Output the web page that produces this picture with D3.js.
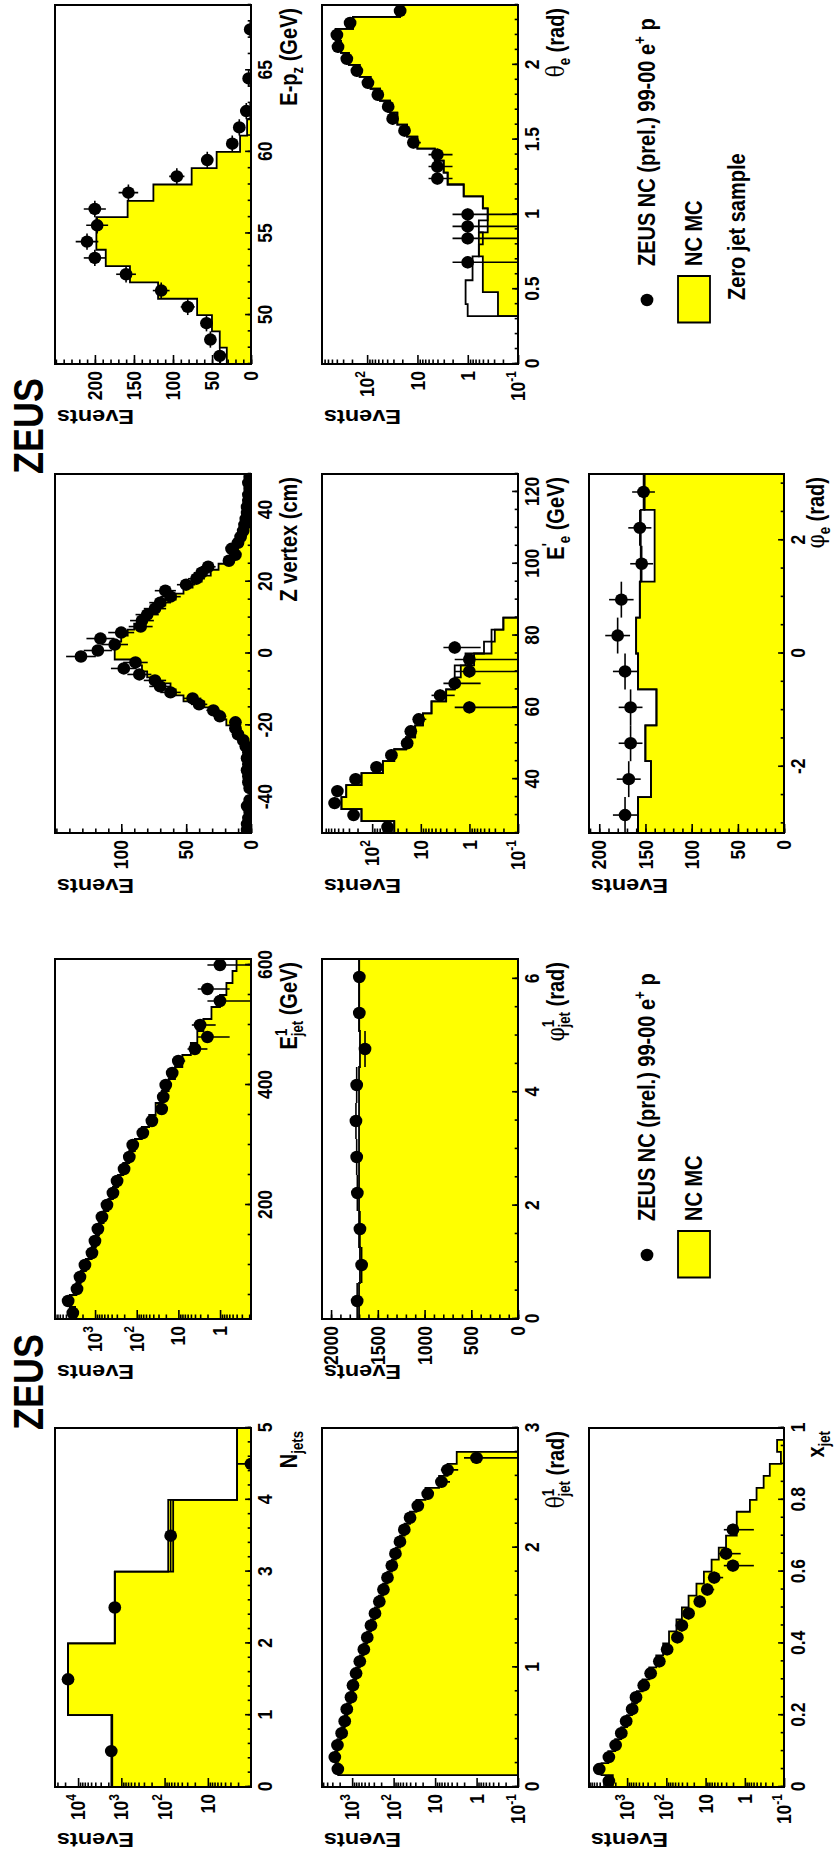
<!DOCTYPE html>
<html>
<head>
<meta charset="utf-8">
<script src="https://cdn.jsdelivr.net/npm/d3@7"></script>
<style>
  body { margin: 0; background: #fff; }
  svg { display: block; }
</style>
</head>
<body>
<script>
// ---------------- histogram contents (events per bin) ----------------
// E - pz, 22 bins from 47 to 69 GeV
const epzRange = [47, 69];
const epzData = [40, 52, 57, 81, 115, 160, 200, 210, 197, 200, 157, 95, 56, 24, 15, 6, 0, 3, 0, 0, 1, 0];
const epzMC   = [31, 40, 50, 69, 119, 155, 186, 198, 198, 158, 125, 76, 44, 14, 5, 1, 0, 0, 0, 0, 0, 0];

// theta_e, 30 bins from 0 to 2.4 rad
const thetaERange = [0, 2.4];
const thetaEData = [0, 0, 0, 0, 0, 0, 0, 0, 1, 0, 1, 1, 1, 0, 0, 4, 4, 4, 12, 18, 31, 38, 61, 96, 159, 252, 377, 397, 217, 22];
const thetaEMC   = [0, 0, 0, 0, 0.25, 0.25, 0.5, 0.5, 0.5, 0.6, 0.6, 0.4, 0.4, 0.5, 1.2, 2.5, 3, 4.5, 10, 16, 25, 35, 55, 85, 140, 230, 330, 420, 190, 22];
const thetaEMCLine = [0, 0, 0, 0, 1.0, 1.1, 1.1, 0.8, 0.8, 0.6, 0.5, 0.6, 0.4, 0.5, 1.2, 2.5, 3, 4.5, 10, 16, 25, 35, 55, 85, 140, 230, 330, 420, 190, 22];

// Z vertex, 60 bins from -50 to 50 cm
const zvtxRange = [-50, 50];
const zvtxData = [3, 3, 2, 1, 3, 1, 0, 1, 2, 2, 3, 2, 3, 2, 4, 6, 10, 12, 12, 24, 29, 40, 45, 62, 70, 74, 86, 98, 89, 131,
                  118, 105, 116, 100, 85, 84, 80, 74, 70, 62, 66, 50, 42, 38, 33, 17, 12, 15, 10, 8, 6, 5, 4, 3, 3, 2, 2, 1, 2, 1];
const zvtxMC   = [1, 1, 1, 1, 1, 1, 1, 1, 1, 1.5, 1.5, 1.5, 2, 2, 3, 4, 9, 14, 19, 22, 30, 36, 52, 58, 62, 76, 80, 84, 92, 105,
                  105, 103, 100, 95, 90, 84, 78, 72, 66, 58, 52, 45, 38, 31, 25, 19, 14, 10, 7, 5, 3.5, 2.5, 2, 1.5, 1.5, 1, 1, 1, 1, 1];

// E'_e, 30 bins from 25 to 125 GeV
const eeRange = [25, 125];
const eeData = [48, 240, 590, 516, 218, 81, 40, 19, 16, 11, 1, 4, 2, 1, 1, 2, 0, 0, 0, 0, 0, 0, 0, 0, 0, 0, 0, 0, 0, 0];
const eeMC   = [35, 165, 426, 340, 165, 60, 35, 20, 13, 9, 6, 3, 2, 1.5, 0.8, 0.35, 0.3, 0.2, 0, 0, 0, 0, 0, 0, 0, 0, 0, 0, 0, 0];
const eeMCLine = [35, 165, 426, 340, 165, 60, 35, 20, 13, 9, 6, 3, 2, 2, 1.2, 0.5, 0.35, 0.2, 0, 0, 0, 0, 0, 0, 0, 0, 0, 0, 0, 0];

// phi_e, 10 bins over [-3.17, 3.17] rad
const phiERange = [-3.17, 3.17];
const phiEData = [172, 168, 166, 166, 172, 180, 176, 154, 156, 152];
const phiEMC   = [158, 144, 150, 138, 158, 160, 156, 140, 140, 151];
const phiEMCLine = [158, 144, 150, 138, 158, 160, 156, 155, 155, 151];

// leading jet energy, 30 bins from 10 to 610 GeV
const ejetRange = [10, 610];
const ejetData = [3400, 4400, 2700, 2290, 1740, 1180, 1000, 850, 680, 515, 370, 295, 200, 150, 124, 71, 43, 25, 23, 20, 14, 10, 4, 2, 3, 0, 1, 2, 0, 1];
const ejetMC   = [3000, 4000, 2800, 2200, 1650, 1200, 950, 800, 620, 480, 370, 280, 210, 150, 110, 75, 50, 35, 25, 17, 12, 8, 5, 3.5, 2.5, 1.6, 1.0, 0.7, 0.5, 0.4];

// leading jet phi, 10 bins over [0, 6.35] rad
const phiJetRange = [0, 6.35];
const phiJetData = [1720, 1672, 1690, 1718, 1725, 1733, 1725, 1636, 1697, 1697];
const phiJetMC   = [1700, 1690, 1700, 1700, 1700, 1700, 1700, 1690, 1700, 1700];

// jet multiplicity, 5 bins from 0 to 5
const njetsRange = [0, 5];
const njetsData = [1700, 17000, 1410, 72, 1];
const njetsMC   = [1620, 17000, 1410, 82, 2.1];
const njetsMCLine = [1620, 17000, 1410, 63, 2.1];

// leading jet theta, 30 bins from 0 to 3 rad
const thetaJetRange = [0, 3];
const thetaJetData = [0, 2200, 2600, 2250, 1780, 1500, 1340, 1060, 950, 800, 650, 520, 430, 350, 280, 220, 175, 140, 110, 90, 70, 55, 40, 26, 15, 7, 5, 1, 0, 0];
const thetaJetMC   = [0, 2150, 2500, 2250, 1800, 1500, 1300, 1080, 930, 790, 650, 530, 430, 350, 280, 225, 178, 140, 110, 88, 70, 54, 40, 28, 17, 8, 5, 3, 0, 0];

// x_jet, 30 bins from 0 to 1
const xjetRange = [0, 1];
const xjetData = [2900, 5100, 2900, 1950, 1400, 1050, 740, 590, 375, 250, 150, 95, 52, 40, 27, 14, 9, 6, 2, 3, 0, 2, 0, 0, 0, 0, 0, 0, 0, 0];
const xjetMC   = [2300, 4500, 3000, 2000, 1400, 1000, 750, 560, 400, 270, 180, 120, 85, 55, 40, 27, 17, 11, 7, 4.6, 3, 1.6, 1.6, 0.74, 0.5, 0.33, 0.23, 0.12, 0.15, 0];

// axis tick labels
const epzTicks = [50, 55, 60, 65];
const thetaETicks = [0, 0.5, 1, 1.5, 2];
const zvtxTicks = [-40, -20, 0, 20, 40];
const eeTicks = [40, 60, 80, 100, 120];
const phiETicks = [-2, 0, 2];
const ejetTicks = [200, 400, 600];
const phiJetTicks = [0, 2, 4, 6];
const njetsTicks = [0, 1, 2, 3, 4, 5];
const thetaJetTicks = [0, 1, 2, 3];
const xjetTicks = [0, 0.2, 0.4, 0.6, 0.8, 1];

const legendEntries = ["ZEUS NC (prel.) 99-00 e", "NC MC", "Zero jet sample"];

// ---------------- canvas ----------------
// The figure is laid out as a landscape canvas and turned onto the portrait page.
const PAGE_W = 837, PAGE_H = 1858, K = 1.18;
const FONT = "'Liberation Sans', Arial, Helvetica, sans-serif";
const GREEK = "'DejaVu Serif', 'Liberation Serif', serif";
const YELLOW = "#ffff00";

const svg = d3.select("body").append("svg")
  .attr("width", PAGE_W).attr("height", PAGE_H)
  .attr("font-family", FONT).attr("font-weight", "bold");
svg.append("rect").attr("width", PAGE_W).attr("height", PAGE_H).attr("fill", "#fff");
const defs = svg.append("defs");
const root = svg.append("g")
  .attr("transform", `translate(0,${PAGE_H}) rotate(-90) scale(1,${K})`);

// frame rows (page x) and columns (page y)
const rows = { r1: [55, 251], r2: [322, 518], r3: [589, 784] };
const cols = { cA: [5, 364], cB: [474, 833], cC: [959, 1319], cD: [1428, 1787] };
function box(row, col) {
  const [px0, px1] = rows[row], [py0, py1] = cols[col];
  return { x0: PAGE_H - py1, x1: PAGE_H - py0, y0: px0 / K, y1: px1 / K };
}

function rich(text, segs, size) {
  let shift = 0;
  segs.forEach(s => {
    const small = s.sub || s.sup;
    const target = s.sup ? -size * 0.42 : s.sub ? size * 0.26 : 0;
    const ts = text.append("tspan").text(s.t)
      .attr("font-size", small ? size * 0.66 : size)
      .attr("dy", target - shift);
    if (s.back) ts.attr("dx", -s.back);
    if (s.greek) ts.attr("font-family", GREEK).attr("font-weight", "normal");
    shift = target;
  });
}

function logMinors([lo, hi]) {
  const out = [];
  for (let e = Math.floor(Math.log10(lo)); e <= Math.ceil(Math.log10(hi)); e++)
    for (let m = 2; m <= 9; m++) { const v = m * Math.pow(10, e); if (v > lo && v < hi) out.push(v); }
  return out;
}

function styleAxis(g, size) {
  g.select(".domain").remove();
  g.selectAll(".tick line").attr("stroke", "#000").attr("stroke-width", 1.6)
    .attr("vector-effect", "non-scaling-stroke");
  g.selectAll(".tick text").attr("font-family", FONT).attr("font-weight", "bold")
    .attr("font-size", size).attr("fill", "#000");
  g.attr("font-family", null).attr("font-size", null);
}

function drawPanel(p) {
  const b = box(p.row, p.col);
  const g = root.append("g");
  const x = d3.scaleLinear().domain(p.xDomain).range([b.x0, b.x1]);
  const isLog = p.yType === "log";
  const y = (isLog ? d3.scaleLog() : d3.scaleLinear()).domain(p.yDomain).range([b.y1, b.y0]);
  const yv = v => (v <= (isLog ? p.yDomain[0] : 0)) ? b.y1 : Math.max(b.y0 - 20, y(v));

  const clipId = "clip-" + p.id;
  defs.append("clipPath").attr("id", clipId).append("rect")
    .attr("x", b.x0).attr("y", b.y0).attr("width", b.x1 - b.x0).attr("height", b.y1 - b.y0);
  const plot = g.append("g").attr("clip-path", `url(#${clipId})`);

  const n = p.data.length, [h0, h1] = p.hist, w = (h1 - h0) / n;
  const edges = d3.range(n + 1).map(i => h0 + i * w);
  const stepPath = vals => {
    const pts = [[x(edges[0]), b.y1]];
    vals.forEach((v, i) => { pts.push([x(edges[i]), yv(v)], [x(edges[i + 1]), yv(v)]); });
    pts.push([x(edges[n]), b.y1]);
    return d3.line()(pts);
  };
  plot.append("path").attr("d", stepPath(p.fill))
    .attr("fill", YELLOW).attr("stroke", "#000").attr("stroke-width", 1.8)
    .attr("vector-effect", "non-scaling-stroke");
  if (p.line) plot.append("path").attr("d", stepPath(p.line))
    .attr("fill", "none").attr("stroke", "#000").attr("stroke-width", 1.8)
    .attr("vector-effect", "non-scaling-stroke");

  const pts = p.data.map((v, i) => ({ v, lo: edges[i], hi: edges[i + 1], c: (edges[i] + edges[i + 1]) / 2 }))
    .filter(d => d.v > 0);
  const err = plot.append("g").attr("stroke", "#000").attr("stroke-width", 1.6);
  err.selectAll("line.h").data(pts).join("line")
    .attr("x1", d => x(d.lo)).attr("x2", d => x(d.hi))
    .attr("y1", d => yv(d.v)).attr("y2", d => yv(d.v))
    .attr("vector-effect", "non-scaling-stroke");
  err.selectAll("line.v").data(pts).join("line")
    .attr("x1", d => x(d.c)).attr("x2", d => x(d.c))
    .attr("y1", d => yv(d.v - Math.sqrt(d.v))).attr("y2", d => yv(d.v + Math.sqrt(d.v)))
    .attr("vector-effect", "non-scaling-stroke");
  plot.append("g").selectAll("ellipse").data(pts).join("ellipse")
    .attr("cx", d => x(d.c)).attr("cy", d => yv(d.v))
    .attr("rx", 6.2).attr("ry", 5.4).attr("fill", "#000");

  // axes, ticks inside the frame
  const fmt = d => String(d);
  const xa = g.append("g").attr("transform", `translate(0,${b.y1})`)
    .call(d3.axisBottom(x).tickValues(p.xMajor).tickSizeInner(-5).tickSizeOuter(0).tickPadding(5).tickFormat(fmt));
  styleAxis(xa, 17.5);
  const xm = g.append("g").attr("transform", `translate(0,${b.y1})`)
    .call(d3.axisBottom(x).tickValues(p.xMinor).tickSizeInner(-2.8).tickSizeOuter(0).tickFormat(""));
  styleAxis(xm, 17.5);

  const ya = g.append("g").attr("transform", `translate(${b.x0},0)`)
    .call(d3.axisLeft(y).tickValues(p.yMajor).tickSizeInner(-9).tickSizeOuter(0).tickPadding(7).tickFormat(fmt));
  styleAxis(ya, 17.5);
  if (isLog) {
    ya.selectAll(".tick text").each(function (d) {
      const e = Math.round(Math.log10(d));
      const t = d3.select(this).text(null);
      if (e === 0) t.text("1");
      else if (e === 1) t.text("10");
      else {
        t.append("tspan").text("10");
        t.append("tspan").text(e).attr("font-size", 12).attr("dy", -8);
      }
    });
  }
  const yMinor = isLog ? logMinors(p.yDomain) : p.yMinor;
  const ym = g.append("g").attr("transform", `translate(${b.x0},0)`)
    .call(d3.axisLeft(y).tickValues(yMinor).tickSizeInner(-4.5).tickSizeOuter(0).tickFormat(""));
  styleAxis(ym, 17.5);

  g.append("rect").attr("x", b.x0).attr("y", b.y0).attr("width", b.x1 - b.x0).attr("height", b.y1 - b.y0)
    .attr("fill", "none").attr("stroke", "#000").attr("stroke-width", 2)
    .attr("vector-effect", "non-scaling-stroke");

  // axis titles
  const titleOffset = p.row === "r3" ? 33.5 : 39;
  const xt = g.append("text").attr("x", b.x1 - 3).attr("y", b.y1 + titleOffset)
    .attr("text-anchor", "end").attr("fill", "#000");
  rich(xt, p.title, 20);
  g.append("text").attr("transform", `translate(${b.x0 - 46},${b.y0 + 1.5}) rotate(-90)`)
    .attr("text-anchor", "end").attr("font-size", 20).attr("fill", "#000").text("Events");
}

const stepTicks = (lo, hi, s) => d3.range(Math.round(lo / s), Math.round(hi / s) + 1).map(i => +(i * s).toFixed(6))
  .filter(v => v >= lo - 1e-9 && v <= hi + 1e-9);

const panels = [
  { id: "epz", row: "r1", col: "cA", xDomain: [47, 69], hist: epzRange, xMajor: epzTicks, xMinor: stepTicks(47, 69, 1),
    yType: "lin", yDomain: [0, 251], yMajor: [0, 50, 100, 150, 200], yMinor: stepTicks(0, 250, 10),
    data: epzData, fill: epzMC, line: null,
    title: [{ t: "E-p" }, { t: "z", sub: true }, { t: " (GeV)" }] },
  { id: "thetae", row: "r2", col: "cA", xDomain: [0, 2.4], hist: thetaERange, xMajor: thetaETicks, xMinor: stepTicks(0, 2.4, 0.1),
    yType: "log", yDomain: [0.1, 785], yMajor: [0.1, 1, 10, 100],
    data: thetaEData, fill: thetaEMC, line: thetaEMCLine,
    title: [{ t: "θ", greek: true }, { t: "e", sub: true }, { t: " (rad)" }] },
  { id: "zvtx", row: "r1", col: "cB", xDomain: [-50, 50], hist: zvtxRange, xMajor: zvtxTicks, xMinor: stepTicks(-50, 50, 5),
    yType: "lin", yDomain: [0, 151], yMajor: [0, 50, 100], yMinor: stepTicks(0, 150, 10),
    data: zvtxData, fill: zvtxMC, line: null,
    title: [{ t: "Z vertex (cm)" }] },
  { id: "ee", row: "r2", col: "cB", xDomain: [25, 125], hist: eeRange, xMajor: eeTicks, xMinor: stepTicks(25, 125, 5),
    yType: "log", yDomain: [0.1, 1070], yMajor: [0.1, 1, 10, 100],
    data: eeData, fill: eeMC, line: eeMCLine,
    title: [{ t: "E" }, { t: "'", sup: true }, { t: "e", sub: true }, { t: " (GeV)" }] },
  { id: "phie", row: "r3", col: "cB", xDomain: [-3.17, 3.17], hist: phiERange, xMajor: phiETicks, xMinor: stepTicks(-3, 3, 0.5),
    yType: "lin", yDomain: [0, 211], yMajor: [0, 50, 100, 150, 200], yMinor: stepTicks(0, 210, 10),
    data: phiEData, fill: phiEMC, line: phiEMCLine,
    title: [{ t: "φ", greek: true }, { t: "e", sub: true }, { t: " (rad)" }] },
  { id: "ejet", row: "r1", col: "cC", xDomain: [10, 610], hist: ejetRange, xMajor: ejetTicks, xMinor: stepTicks(50, 600, 50),
    yType: "log", yDomain: [0.18, 9100], yMajor: [1, 10, 100, 1000],
    data: ejetData, fill: ejetMC, line: null,
    title: [{ t: "E" }, { t: "1", sup: true }, { t: "jet", sub: true, back: 7.5 }, { t: " (GeV)" }] },
  { id: "phijet", row: "r2", col: "cC", xDomain: [0, 6.35], hist: phiJetRange, xMajor: phiJetTicks, xMinor: stepTicks(0, 6.35, 0.5),
    yType: "lin", yDomain: [0, 2096], yMajor: [0, 500, 1000, 1500, 2000], yMinor: stepTicks(0, 2000, 100),
    data: phiJetData, fill: phiJetMC, line: null,
    title: [{ t: "φ", greek: true }, { t: "1", sup: true }, { t: "jet", sub: true, back: 7.5 }, { t: " (rad)" }] },
  { id: "njets", row: "r1", col: "cD", xDomain: [0, 5], hist: njetsRange, xMajor: njetsTicks, xMinor: stepTicks(0, 5, 0.2),
    yType: "log", yDomain: [1, 34000], yMajor: [10, 100, 1000, 10000],
    data: njetsData, fill: njetsMC, line: njetsMCLine,
    title: [{ t: "N" }, { t: "jets", sub: true }] },
  { id: "thetajet", row: "r2", col: "cD", xDomain: [0, 3], hist: thetaJetRange, xMajor: thetaJetTicks, xMinor: stepTicks(0, 3, 0.2),
    yType: "log", yDomain: [0.1, 5300], yMajor: [0.1, 1, 10, 100, 1000],
    data: thetaJetData, fill: thetaJetMC, line: null,
    title: [{ t: "θ", greek: true }, { t: "1", sup: true }, { t: "jet", sub: true, back: 7.5 }, { t: " (rad)" }] },
  { id: "xjet", row: "r3", col: "cD", xDomain: [0, 1], hist: xjetRange, xMajor: xjetTicks, xMinor: stepTicks(0, 1, 0.05),
    yType: "log", yDomain: [0.1, 9300], yMajor: [0.1, 1, 10, 100, 1000],
    data: xjetData, fill: xjetMC, line: null,
    title: [{ t: "x" }, { t: "jet", sub: true }] }
];
panels.forEach(drawPanel);

// experiment labels
[PAGE_H - 474, PAGE_H - 1430].forEach(lx => {
  root.append("text").attr("x", lx).attr("y", 43 / K).attr("font-size", 36).attr("fill", "#000").text("ZEUS");
});

// legends
function legend(shift, withHeader) {
  const g = root.append("g").attr("transform", `translate(${-shift},0)`);
  g.append("ellipse").attr("cx", 1558).attr("cy", 647 / K).attr("rx", 6.2).attr("ry", 5.4).attr("fill", "#000");
  const t1 = g.append("text").attr("x", 1592).attr("y", 647 / K + 7).attr("fill", "#000");
  rich(t1, [{ t: legendEntries[0] }, { t: "+", sup: true }, { t: " p" }], 20);
  g.append("rect").attr("x", 1535.5).attr("y", 678 / K).attr("width", 46.5).attr("height", 32 / K)
    .attr("fill", YELLOW).attr("stroke", "#000").attr("stroke-width", 1.8)
    .attr("vector-effect", "non-scaling-stroke");
  g.append("text").attr("x", 1592).attr("y", 694 / K + 7).attr("font-size", 20).attr("fill", "#000").text(legendEntries[1]);
  if (withHeader)
    g.append("text").attr("x", 1558).attr("y", 737 / K + 7).attr("font-size", 20).attr("fill", "#000").text(legendEntries[2]);
}
legend(0, true);
legend(955, false);
</script>
</body>
</html>
